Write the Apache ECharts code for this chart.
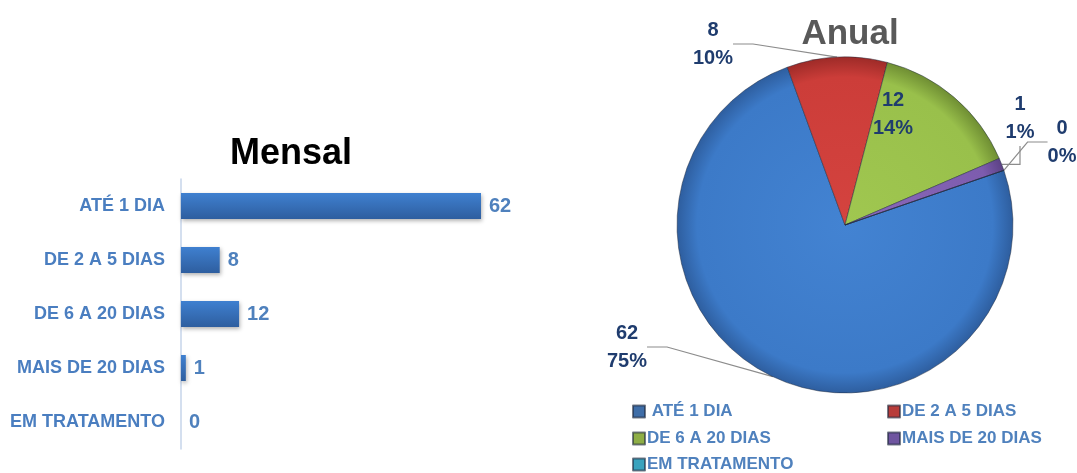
<!DOCTYPE html>
<html><head><meta charset="utf-8">
<script src="https://cdn.jsdelivr.net/npm/echarts@6/dist/echarts.min.js"></script>
<style>html,body{margin:0;padding:0;background:#fff}#c{width:1077px;height:473px}</style>
</head><body><div id="c"></div>
<script>
const categories = ['ATÉ 1 DIA', 'DE 2 A 5 DIAS', 'DE 6 A 20 DIAS', 'MAIS DE 20 DIAS', 'EM TRATAMENTO'];
const mensalValues = [62, 8, 12, 1, 0];
const anualValues = [62, 8, 12, 1, 0];
const legendLabels = [' ATÉ 1 DIA', 'DE 2 A 5 DIAS', 'DE 6 A 20 DIAS', 'MAIS DE 20 DIAS', 'EM TRATAMENTO'];

const pieColors = [
  ['#4383D2', '#3C7AC8', '#2E5E9F'],
  ['#D4433F', '#CC3D39', '#9E2B28'],
  ['#A0C750', '#99C04B', '#6F8E33'],
  ['#8A69BA', '#7D5CAE', '#5C4285'],
  ['#4FB4CE', '#3FA6C2', '#2C7E95']
];
const legendColors = ['#3F6EA8', '#B83C3A', '#8EAE46', '#6F55A0', '#3AA3BE'];
const legendPos = [[627, 398], [882, 398], [627, 425], [882, 425], [627, 451]];
const labelPos = {0: [627, 347], 1: [713, 44], 2: [893, 114], 3: [1020, 118], 4: [1062, 142]};
const PIE_CX = 845, PIE_CY = 225, PIE_R = 168;

const FONT = "'Liberation Sans', Arial, sans-serif";
const chart = echarts.init(document.getElementById('c'));

const pieData = anualValues.map((v, i) => ({
  name: legendLabels[i],
  value: v,
  itemStyle: {
    color: new echarts.graphic.RadialGradient(PIE_CX, PIE_CY, PIE_R, [
      {offset: 0, color: pieColors[i][0]}, {offset: 0.88, color: pieColors[i][1]}, {offset: 1, color: pieColors[i][2]}
    ], true)
  },
  labelLine: {show: i !== 2}
}));

chart.setOption({
  animation: false,
  title: [
    {text: 'Mensal', left: 286, top: 131, textAlign: 'center',
     textStyle: {fontFamily: FONT, fontSize: 36, fontWeight: 'bold', color: '#000'}},
    {text: 'Anual', left: 845, top: 12, textAlign: 'center',
     textStyle: {fontFamily: FONT, fontSize: 35, fontWeight: 'bold', color: '#595959'}}
  ],
  legend: legendLabels.map((n, i) => ({
    orient: 'vertical', left: legendPos[i][0], top: legendPos[i][1], itemWidth: 12, itemHeight: 12,
    data: [{name: n, itemStyle: {color: legendColors[i]}}], icon: 'rect',
    textStyle: {fontFamily: FONT, fontSize: 17, fontWeight: 'bold', color: '#4F81BD', padding: [0, 0, 0, -3]}
  })),
  grid: {left: 181, top: 179, width: 300, height: 270},
  xAxis: {type: 'value', min: 0, max: 62, show: false},
  yAxis: {
    type: 'category', data: categories, inverse: true,
    axisLine: {show: true, lineStyle: {color: '#C6D5EA', width: 1.5}},
    axisTick: {show: false},
    axisLabel: {margin: 16, fontFamily: FONT, fontSize: 18, fontWeight: 'bold', color: '#4A7EC0'}
  },
  series: [
    {
      type: 'bar', data: mensalValues, barWidth: 26,
      itemStyle: {
        color: new echarts.graphic.LinearGradient(0, 0, 0, 1, [
          {offset: 0, color: '#3F80D0'}, {offset: 1, color: '#2E5E9F'}
        ]),
        shadowBlur: 4, shadowOffsetY: 2, shadowOffsetX: 1, shadowColor: 'rgba(0,0,0,0.3)'
      },
      label: {show: true, position: 'right', distance: 8, fontFamily: FONT, fontSize: 20, fontWeight: 'bold', color: '#4F81BD'}
    },
    {
      type: 'pie', center: [PIE_CX, PIE_CY], radius: PIE_R, startAngle: 19, clockwise: true,
      percentPrecision: 0, minAngle: 0, avoidLabelOverlap: false,
      data: pieData,
      itemStyle: {borderColor: 'rgba(30,40,60,0.6)', borderWidth: 0.8},
      label: {show: true, position: 'outside', formatter: '{c}\n{d}%', fontFamily: FONT, fontSize: 20,
              fontWeight: 'bold', color: '#1F3C6E', lineHeight: 28, align: 'center'},
      labelLine: {show: true, lineStyle: {color: '#8C8C8C', width: 1.2}, length: 10, length2: 20},
      labelLayout: function (p) {
        const pos = labelPos[p.dataIndex];
        return {x: pos[0], y: pos[1], align: 'center', verticalAlign: 'middle'};
      },
      emphasis: {disabled: true}
    }
  ]
});
</script></body></html>
